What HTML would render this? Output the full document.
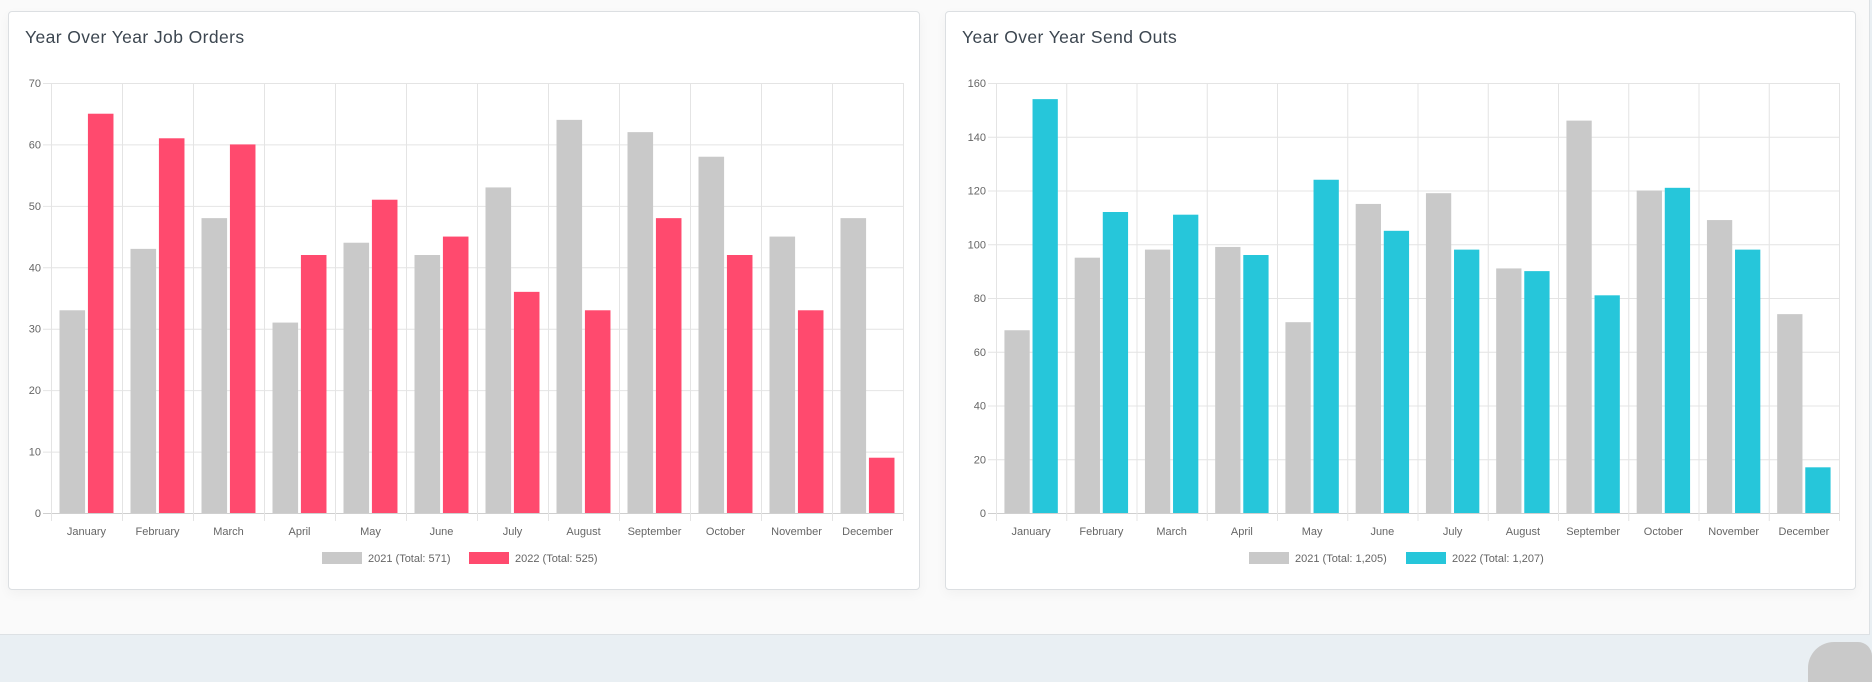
<!DOCTYPE html>
<html><head><meta charset="utf-8"><style>
html,body{margin:0;padding:0;width:1872px;height:652px;overflow:hidden;background:#e9eff3;font-family:"Liberation Sans",sans-serif}
#panel{position:absolute;left:0;top:0;width:1869px;height:634px;background:#fafafa;border-right:1px solid #dde1e4;border-bottom:1px solid #dde1e4}
.card{position:absolute;top:11px;height:577px;background:#fff;border:1px solid #dcdfe2;border-radius:4px;box-shadow:0 4px 12px rgba(0,0,0,0.04)}
.title{position:absolute;left:16px;top:15px;font-size:17.5px;color:#3c4650;letter-spacing:0.4px}
#blob{position:absolute;left:1808px;top:642px;width:64px;height:40px;background:#c9c9c9;border-radius:26px 14px 0 0}
</style></head><body>
<div id="panel"></div>
<div class="card" style="left:8px;width:910px">
 <div class="title">Year Over Year Job Orders</div>
</div>
<div class="card" style="left:945px;width:909px">
 <div class="title">Year Over Year Send Outs</div>
</div>
<div id="blob"></div>
<svg id="svg" width="1872" height="652" style="position:absolute;left:0;top:0"></svg>
<script>
const months=["January","February","March","April","May","June","July","August","September","October","November","December"];
const jobs2021=[33,43,48,31,44,42,53,64,62,58,45,48];
const jobs2022=[65,61,60,42,51,45,36,33,48,42,33,9];
const jobTicks=[0,10,20,30,40,50,60,70];
const jobLegend=["2021 (Total: 571)","2022 (Total: 525)"];
const send2021=[68,95,98,99,71,115,119,91,146,120,109,74];
const send2022=[154,112,111,96,124,105,98,90,81,121,98,17];
const sendTicks=[0,20,40,60,80,100,120,140,160];
const sendLegend=["2021 (Total: 1,205)","2022 (Total: 1,207)"];

const svg=document.getElementById('svg');
const NS='http://www.w3.org/2000/svg';
function mk(t,a,txt){const e=document.createElementNS(NS,t);for(const k in a)e.setAttribute(k,a[k]);if(txt!==undefined)e.textContent=txt;svg.appendChild(e);return e;}

function chart(o){
  const top=83,bot=513,L=o.left,R=o.right;
  const max=o.ticks[o.ticks.length-1];
  const y=v=>bot-(v/max)*(bot-top);
  const cw=(R-L)/o.cats.length;
  const x=i=>L+i*cw;
  o.ticks.forEach(t=>{
    const g=mk('line',{x1:L-8,x2:R,y1:y(t)+0.5,y2:y(t)+0.5,stroke:t===0?'#cfcfcf':'#e4e4e4','stroke-width':1});
    
    
    const tl=mk('text',{x:L-10,y:y(t)+4,'text-anchor':'end','font-size':11,fill:'#666'},t);
    
    
  });
  for(let i=0;i<=o.cats.length;i++){
    const v=mk('line',{x1:x(i)+0.5,x2:x(i)+0.5,y1:top,y2:bot+8,stroke:'#e4e4e4','stroke-width':1});
    
    
  }
  o.cats.forEach((c,i)=>{
    const gs=x(i)+cw*0.1, bw=cw*0.4;
    [o.a,o.b].forEach((arr,j)=>{
      const bx=gs+j*bw+bw*0.05, w=bw*0.9;
      const r=mk('rect',{x:bx,y:y(arr[i]),width:w,height:bot-y(arr[i]),fill:j?o.color:'#c9c9c9'});
      
      
    });
    const t=mk('text',{x:x(i)+cw/2,y:535,'text-anchor':'middle','font-size':11,fill:'#666'},c);
    
    
  });
  const lg=o.legendX;
  const b1=mk('rect',{x:lg[0],y:552,width:40,height:12,fill:'#c9c9c9'});
  
  
  const t1=mk('text',{x:lg[0]+46,y:562,'font-size':11,fill:'#666'},o.legend[0]);
  
  
  const b2=mk('rect',{x:lg[1],y:552,width:40,height:12,fill:o.color});
  
  
  const t2=mk('text',{x:lg[1]+46,y:562,'font-size':11,fill:'#666'},o.legend[1]);
  
  
}
chart({left:51,right:903,cats:months,a:jobs2021,b:jobs2022,ticks:jobTicks,color:'#ff4a6e',legend:jobLegend,legendX:[322,469]});
chart({left:996,right:1839,cats:months,a:send2021,b:send2022,ticks:sendTicks,color:'#26c6da',legend:sendLegend,legendX:[1249,1406]});
</script>
</body></html>
